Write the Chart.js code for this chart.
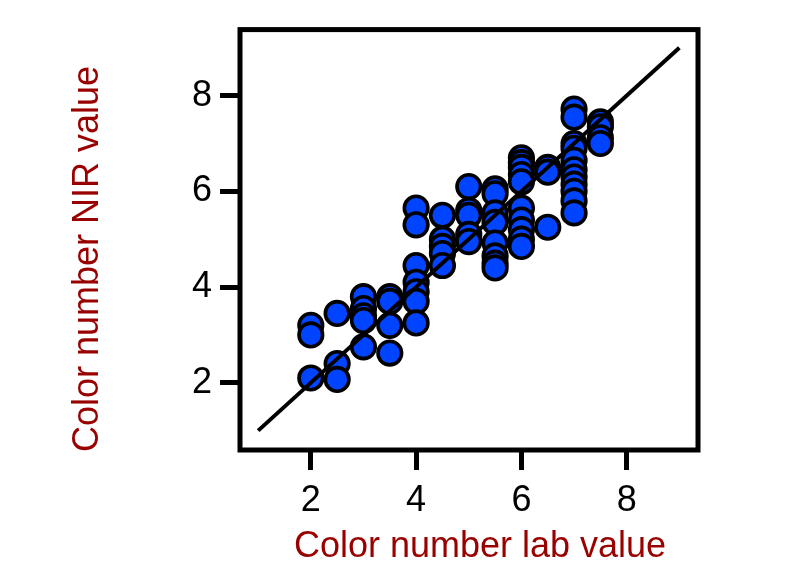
<!DOCTYPE html>
<html>
<head>
<meta charset="utf-8">
<script src="https://cdn.jsdelivr.net/npm/chart.js@4"></script>
<style>
  html, body { margin: 0; padding: 0; background: #ffffff; }
  canvas { display: block; }
</style>
</head>
<body>
<canvas id="c" width="800" height="565"></canvas>
<script>
// ---- data ----
const xTickValues = [2, 4, 6, 8];
const yTickValues = [2, 4, 6, 8];

const xLab = [
  2, 2, 2,
  2.5, 2.5, 2.5,
  3, 3, 3, 3, 3,
  3.5, 3.5, 3.5, 3.5,
  4, 4, 4, 4, 4, 4, 4,
  4.5, 4.5, 4.5, 4.5, 4.5,
  5, 5, 5, 5, 5,
  5.5, 5.5, 5.5, 5.5, 5.5, 5.5, 5.5, 5.5,
  6, 6, 6, 6, 6, 6, 6, 6, 6, 6,
  6.5, 6.5, 6.5,
  7, 7, 7, 7, 7, 7, 7, 7, 7, 7, 7,
  7.5, 7.5, 7.5, 7.5
];
const yNir = [
  3.2, 3.0, 2.1,
  3.45, 2.4, 2.07,
  3.8, 3.55, 3.4, 3.3, 2.75,
  3.8, 3.7, 3.2, 2.62,
  5.65, 5.3, 4.45, 4.1, 3.9, 3.7, 3.25,
  5.5, 5.0, 4.85, 4.7, 4.45,
  6.1, 5.6, 5.5, 5.1, 4.95,
  6.05, 5.95, 5.55, 5.35, 4.92, 4.65, 4.5, 4.4,
  6.7, 6.6, 6.5, 6.35, 6.2, 5.65, 5.4, 5.2, 5.0, 4.85,
  6.5, 6.4, 5.25,
  7.72, 7.55, 7.0, 6.9, 6.65, 6.45, 6.3, 6.15, 6.0, 5.8, 5.55,
  7.45, 7.35, 7.12, 7.0
];
const fitX = [1, 9];
const fitY = [1, 9];

const xTitle = 'Color number lab value';
const yTitle = 'Color number NIR value';

// ---- chart ----
const FONT = '"Liberation Sans", Arial, Helvetica, sans-serif';
const titleColor = '#990000';

const framePlugin = {
  id: 'frameAndTitles',
  afterDraw(chart) {
    const { ctx, chartArea: a } = chart;
    ctx.save();
    ctx.strokeStyle = '#000';
    ctx.lineWidth = 5;
    ctx.lineJoin = 'miter';
    ctx.strokeRect(a.left, a.top, a.right - a.left, a.bottom - a.top);

    ctx.fillStyle = titleColor;
    ctx.font = '36px ' + FONT;
    ctx.textAlign = 'center';
    ctx.textBaseline = 'alphabetic';
    ctx.fillText(xTitle, 480, 557);
    ctx.translate(98, 259);
    ctx.rotate(-Math.PI / 2);
    ctx.fillText(yTitle, 0, 0);
    ctx.restore();
  }
};

const tickFont = { family: FONT, size: 36 };

new Chart(document.getElementById('c'), {
  type: 'scatter',
  data: {
    datasets: [
      {
        label: 'fit',
        data: fitX.map((x, i) => ({ x, y: fitY[i] })),
        showLine: true,
        borderColor: '#000',
        borderWidth: 4,
        pointRadius: 0,
        order: 0
      },
      {
        label: 'samples',
        data: xLab.map((x, i) => ({ x, y: yNir[i] })),
        backgroundColor: '#0044ff',
        borderColor: '#000',
        borderWidth: 3.6,
        pointRadius: 11.8,
        pointHoverRadius: 11.8,
        order: 1
      }
    ]
  },
  options: {
    responsive: false,
    animation: false,
    devicePixelRatio: 1,
    layout: { padding: { top: 23, right: 102, left: 0, bottom: 0 } },
    plugins: { legend: { display: false }, tooltip: { enabled: false } },
    scales: {
      x: {
        type: 'linear',
        position: 'bottom',
        min: 0.655,
        max: 9.354,
        afterBuildTicks: s => { s.ticks = xTickValues.map(v => ({ value: v })); },
        afterFit: s => { s.height = 115; },
        border: { display: false },
        grid: { drawOnChartArea: false, drawTicks: true, tickLength: 20, tickWidth: 5, lineWidth: 5, tickColor: '#000', color: '#000' },
        ticks: { font: tickFont, color: '#000', padding: 9 }
      },
      y: {
        type: 'linear',
        position: 'left',
        min: 0.595,
        max: 9.38,
        afterBuildTicks: s => { s.ticks = yTickValues.map(v => ({ value: v })); },
        afterFit: s => { s.width = 240; },
        border: { display: false },
        grid: { drawOnChartArea: false, drawTicks: true, tickLength: 20, tickWidth: 5, lineWidth: 5, tickColor: '#000', color: '#000' },
        ticks: { font: tickFont, color: '#000', padding: 8 }
      }
    }
  },
  plugins: [framePlugin]
});
</script>
</body>
</html>
